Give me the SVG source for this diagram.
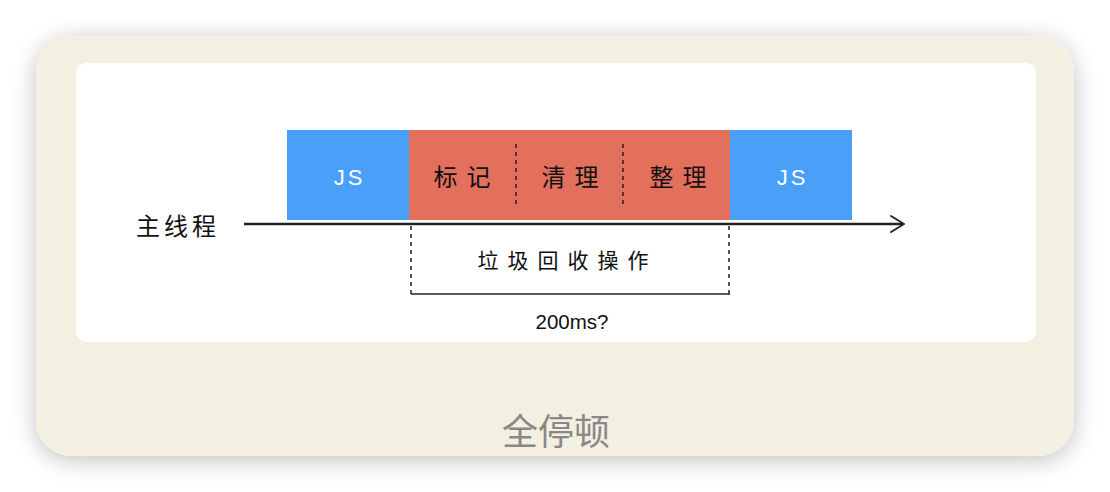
<svg xmlns="http://www.w3.org/2000/svg" width="1110" height="492" viewBox="0 0 1110 492">
<defs>
<filter id="sh" x="-10%" y="-20%" width="120%" height="140%">
<feGaussianBlur in="SourceAlpha" stdDeviation="12"/>
<feOffset dx="0" dy="4"/>
<feComponentTransfer><feFuncA type="linear" slope="0.25"/></feComponentTransfer>
<feMerge><feMergeNode/><feMergeNode in="SourceGraphic"/></feMerge>
</filter>
<marker id="arr" markerWidth="20" markerHeight="20" refX="16" refY="10" orient="auto" markerUnits="userSpaceOnUse">
<path d="M4,2 L17,10 L4,18" fill="none" stroke="#222" stroke-width="2" stroke-linecap="round" stroke-linejoin="round"/>
</marker>
</defs>
<style>
.lbl{font-family:"Noto Sans CJK SC","Liberation Sans",sans-serif;font-size:24px;fill:#111;text-anchor:middle;letter-spacing:9px}
.js{font-family:"Liberation Sans",sans-serif;font-size:22px;fill:#fff;text-anchor:middle;letter-spacing:3px}
.dash{stroke:#222;stroke-width:1.5;stroke-dasharray:4,4;fill:none}
</style>
<rect width="1110" height="492" fill="#fff"/>
<rect x="36" y="36" width="1038" height="420" rx="36" fill="#F3EFE1" filter="url(#sh)"/>
<rect x="76" y="63" width="960" height="279" rx="10" fill="#fff"/>
<g id="js1"><rect x="287" y="130" width="122" height="90" fill="#4A9FF9"/><text class="js" x="349.5" y="185">JS</text></g>
<g id="gc"><rect x="409" y="130" width="321" height="90" fill="#E36F5D"/>
<text class="lbl" x="466.5" y="186">标记</text>
<text class="lbl" x="574.5" y="186">清理</text>
<text class="lbl" x="682.5" y="186">整理</text>
<line class="dash" x1="516" y1="144" x2="516" y2="206"/>
<line class="dash" x1="623" y1="144" x2="623" y2="206"/>
</g>
<g id="js2"><rect x="730" y="130" width="122" height="90" fill="#4A9FF9"/><text class="js" x="792.5" y="185">JS</text></g>
<g id="thread"><text class="lbl" x="178" y="235" style="font-size:24px;letter-spacing:4px">主线程</text></g>
<g id="connectors">
<line x1="244" y1="224" x2="903" y2="224" stroke="#222" stroke-width="2.5" marker-end="url(#arr)"/>
<line class="dash" x1="411" y1="226" x2="411" y2="294"/>
<line class="dash" x1="729" y1="226" x2="729" y2="294"/>
<line x1="411" y1="294" x2="730" y2="294" stroke="#222" stroke-width="1.5"/>
</g>
<g id="gcop"><text class="lbl" x="567.5" y="268" style="font-size:21px;letter-spacing:9px">垃圾回收操作</text></g>
<g id="time"><text x="572" y="329" font-family="Liberation Sans,sans-serif" font-size="20.5" fill="#111" text-anchor="middle">200ms?</text></g>
<g id="title"><text x="556" y="445" font-family="Noto Sans CJK SC,sans-serif" font-size="36" fill="#888" text-anchor="middle">全停顿</text></g>
</svg>
